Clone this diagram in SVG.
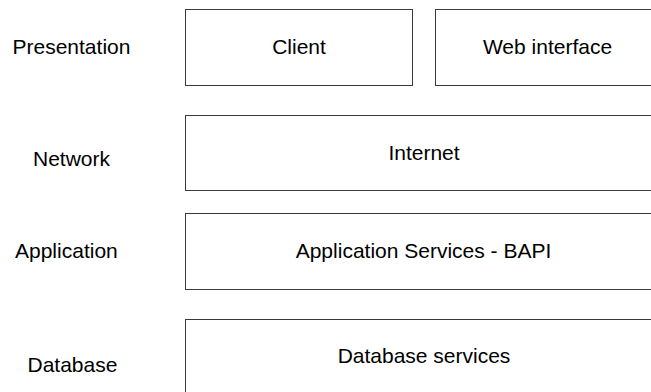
<svg xmlns="http://www.w3.org/2000/svg" width="651" height="392" viewBox="0 0 651 392">
<style>
.box{fill:#fff;stroke:#3a3a3a;stroke-width:1}
text{font-family:"Liberation Sans",Arial,sans-serif;font-size:21px;fill:#000}
.c{text-anchor:middle}
</style>
<rect width="651" height="392" fill="#fff"/>
<g id="labels">
<text x="12.5" y="53.5">Presentation</text>
<text x="33" y="166">Network</text>
<text x="15" y="257.5">Application</text>
<text x="27.5" y="372">Database</text>
</g>
<g id="client"><rect class="box" x="185.5" y="9.5" width="227" height="76"/><text class="c" x="299" y="54">Client</text></g>
<g id="web"><rect class="box" x="435.5" y="9.5" width="240" height="76"/><text class="c" x="547.5" y="54">Web interface</text></g>
<g id="internet"><rect class="box" x="185.5" y="115.5" width="490" height="75"/><text class="c" x="424" y="160">Internet</text></g>
<g id="app"><rect class="box" x="185.5" y="213.5" width="490" height="76"/><text class="c" x="423.5" y="257.5">Application Services - BAPI</text></g>
<g id="db"><rect class="box" x="185.5" y="319.5" width="490" height="100"/><text class="c" x="424" y="363">Database services</text></g>
<g id="connectors"></g>
</svg>
